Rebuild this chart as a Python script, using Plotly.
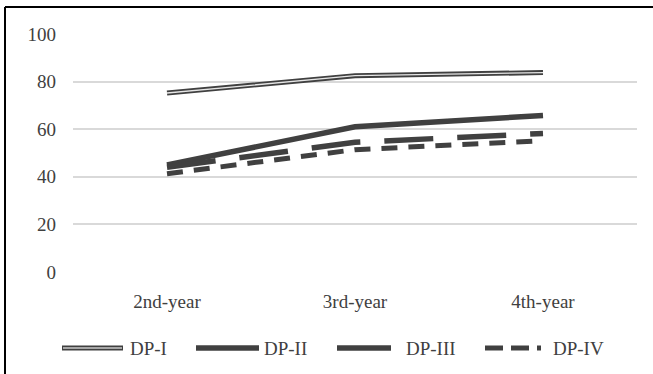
import plotly.graph_objects as go

categories = ["2nd-year", "3rd-year", "4th-year"]
dp1 = [75.2, 82.5, 83.8]
dp2 = [45.0, 61.0, 65.8]
dp3 = [44.0, 54.5, 58.2]
dp4 = [41.3, 51.4, 55.2]
y_ticks = [0, 20, 40, 60, 80, 100]
series_names = ["DP-I", "DP-II", "DP-III", "DP-IV"]

W, H = 653, 374
L, R, T, B = 73, 16, 34, 102
PW, PH = W - L - R, H - T - B
DARK = "#404040"
FONT = "Liberation Serif"

def px2x(px):
    return (px - L) / PW

def px2y(py):
    return (H - B - py) / PH

DASH3 = "49px,24px"
DASH4 = "16px,11px"

fig = go.Figure()
fig.add_trace(go.Scatter(x=categories, y=dp1, mode="lines", name=series_names[0],
                         line=dict(color=DARK, width=5), showlegend=False))
fig.add_trace(go.Scatter(x=categories, y=dp1, mode="lines", name=series_names[0],
                         line=dict(color="#e6e6e6", width=1.3), showlegend=False, hoverinfo="skip"))
fig.add_trace(go.Scatter(x=categories, y=dp2, mode="lines", name=series_names[1],
                         line=dict(color=DARK, width=5.5), showlegend=False))
fig.add_trace(go.Scatter(x=categories, y=dp3, mode="lines", name=series_names[2],
                         line=dict(color=DARK, width=5.5, dash=DASH3), showlegend=False))
fig.add_trace(go.Scatter(x=categories, y=dp4, mode="lines", name=series_names[3],
                         line=dict(color=DARK, width=5, dash=DASH4), showlegend=False))

shapes = []
annotations = []
# frame (top and left edges visible)
shapes.append(dict(type="line", xref="paper", yref="paper", x0=px2x(5), x1=px2x(700),
                   y0=px2y(7), y1=px2y(7), line=dict(color="#000000", width=2)))
shapes.append(dict(type="line", xref="paper", yref="paper", x0=px2x(5), x1=px2x(5),
                   y0=px2y(7), y1=px2y(400), line=dict(color="#000000", width=2)))

# manual legend
ly = px2y(348)
legend_items = [
    (series_names[0], 62, 123, 128, dict(color=DARK, width=5), dict(color="#c8c8c8", width=1.5)),
    (series_names[1], 196, 259, 262, dict(color=DARK, width=5.5), None),
    (series_names[2], 337, 391, 404, dict(color=DARK, width=5.5), None),
    (series_names[3], 485, 548, 551, dict(color=DARK, width=5, dash="18px,8px,18px,8px,4px,20px"), None),
]
for name, sx0, sx1, tx, ln, inner in legend_items:
    shapes.append(dict(type="line", xref="paper", yref="paper", x0=px2x(sx0), x1=px2x(sx1),
                       y0=ly, y1=ly, line=ln))
    if inner:
        shapes.append(dict(type="line", xref="paper", yref="paper", x0=px2x(sx0 + 1), x1=px2x(sx1 - 1),
                           y0=ly, y1=ly, line=inner))
    annotations.append(dict(x=px2x(tx), y=ly, xref="paper", yref="paper", text=name,
                            showarrow=False, xanchor="left", yanchor="middle",
                            font=dict(family=FONT, size=19, color="#404040")))

fig.update_layout(
    width=W, height=H,
    margin=dict(l=L, r=R, t=T, b=B),
    paper_bgcolor="white", plot_bgcolor="white",
    showlegend=False,
    font=dict(family=FONT, size=19, color="#404040"),
    shapes=shapes, annotations=annotations,
    xaxis=dict(range=[-0.5, 2.5], showgrid=False, zeroline=False, showline=False, ticks="",
               ticklabelstandoff=16, tickfont=dict(family=FONT, size=19, color="#404040")),
    yaxis=dict(range=[0, 100], tickvals=y_ticks, showgrid=True, gridcolor="#d9d9d9", gridwidth=1.5,
               zeroline=False, showline=False, ticks="", ticklabelstandoff=16,
               tickfont=dict(family=FONT, size=19, color="#404040")),
)

fig.write_html("out.html", config={"displayModeBar": False},
               post_script="document.body.style.margin='0';document.body.style.overflow='hidden';")
